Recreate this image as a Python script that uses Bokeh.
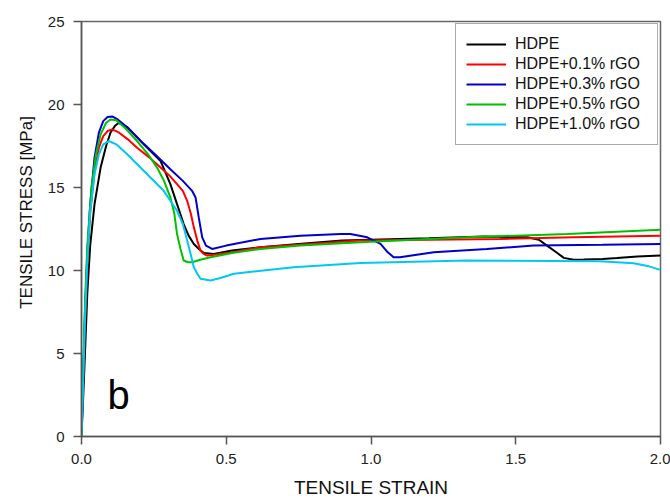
from bokeh.plotting import figure
from bokeh.models import Range1d, FixedTicker, NumeralTickFormatter, Legend, LegendItem, Label, Title
from bokeh.embed import file_html
from bokeh.resources import INLINE

# ---- data ----
hdpe_x = [0, 0.005, 0.012, 0.02, 0.03, 0.045, 0.066, 0.085, 0.1, 0.115, 0.129, 0.16, 0.215, 0.273, 0.307,
          0.33, 0.353, 0.37, 0.388, 0.405, 0.423, 0.457, 0.52, 0.618, 0.75, 0.9, 1.0, 1.2, 1.39, 1.54,
          1.58, 1.608, 1.64, 1.666, 1.7, 1.735, 1.8, 1.85, 1.92, 2.0]
hdpe_y = [0, 2.0, 5.0, 8.6, 11.5, 14.0, 16.2, 17.5, 18.3, 18.7, 18.9, 18.6, 17.6, 16.6, 15.2,
          14.0, 12.8, 12.1, 11.6, 11.3, 11.05, 11.0, 11.2, 11.4, 11.6, 11.8, 11.85, 11.95, 12.05, 12.0,
          11.85, 11.5, 11.1, 10.76, 10.65, 10.66, 10.7, 10.75, 10.85, 10.9]

r01_x = [0, 0.005, 0.012, 0.02, 0.03, 0.045, 0.06, 0.075, 0.09, 0.106, 0.13, 0.16, 0.192, 0.235, 0.273,
         0.305, 0.33, 0.35, 0.365, 0.378, 0.388, 0.40, 0.411, 0.422, 0.434, 0.46, 0.52, 0.618, 0.75,
         0.964, 1.2, 1.447, 1.7, 2.0]
r01_y = [0, 3.0, 7.0, 10.5, 13.5, 16.0, 17.4, 18.1, 18.4, 18.5, 18.3, 17.9, 17.4, 16.8, 16.2,
         15.7, 15.2, 14.8, 14.2, 13.4, 12.6, 11.8, 11.2, 11.0, 10.9, 10.95, 11.1, 11.4, 11.55,
         11.8, 11.85, 11.9, 12.0, 12.1]

r03_x = [0, 0.005, 0.012, 0.02, 0.03, 0.045, 0.06, 0.075, 0.09, 0.106, 0.125, 0.16, 0.215, 0.26, 0.307,
         0.35, 0.382, 0.394, 0.405, 0.417, 0.43, 0.451, 0.5, 0.618, 0.756, 0.895, 0.929, 0.987, 1.01,
         1.033, 1.055, 1.078, 1.1, 1.217, 1.4, 1.562, 1.8, 2.0]
r03_y = [0, 3.0, 7.5, 11.0, 14.0, 16.8, 18.3, 19.0, 19.25, 19.28, 19.1, 18.6, 17.63, 16.9, 16.1,
         15.4, 14.8, 14.4, 13.2, 12.0, 11.5, 11.3, 11.5, 11.9, 12.1, 12.2, 12.2, 12.0, 11.8,
         11.6, 11.15, 10.8, 10.8, 11.1, 11.3, 11.5, 11.55, 11.6]

r05_x = [0, 0.005, 0.012, 0.02, 0.035, 0.05, 0.066, 0.085, 0.1, 0.12, 0.15, 0.192, 0.23, 0.261, 0.285,
         0.307, 0.32, 0.33, 0.342, 0.353, 0.368, 0.382, 0.41, 0.446, 0.52, 0.618, 0.756, 0.964, 1.33,
         1.678, 2.0]
r05_y = [0, 3.5, 8.0, 11.5, 15.1, 17.0, 18.2, 18.9, 19.1, 19.05, 18.6, 17.8, 17.0, 16.2, 15.4,
         14.4, 13.5, 12.2, 11.3, 10.6, 10.5, 10.5, 10.65, 10.8, 11.05, 11.3, 11.5, 11.7, 12.0,
         12.2, 12.45]

r10_x = [0, 0.005, 0.012, 0.02, 0.03, 0.045, 0.06, 0.075, 0.094, 0.12, 0.158, 0.227, 0.284, 0.33, 0.35,
         0.365, 0.377, 0.388, 0.40, 0.411, 0.446, 0.48, 0.526, 0.733, 0.964, 1.33, 1.79, 1.907, 1.96, 2.0]
r10_y = [0, 3.0, 7.0, 10.5, 13.5, 15.8, 17.0, 17.6, 17.8, 17.6, 17.0, 15.8, 14.8, 13.6, 12.8,
         11.8, 11.0, 10.2, 9.8, 9.5, 9.4, 9.55, 9.8, 10.2, 10.45, 10.6, 10.56, 10.44, 10.25, 10.04]

series_names = ["HDPE", "HDPE+0.1% rGO", "HDPE+0.3% rGO", "HDPE+0.5% rGO", "HDPE+1.0% rGO"]
series_colors = ["#000000", "#ff0000", "#0000cc", "#00c000", "#00c8f0"]
x_ticks = [0.0, 0.5, 1.0, 1.5, 2.0]
y_ticks = [0, 5, 10, 15, 20, 25]
x_title = "TENSILE STRAIN"
y_title = "TENSILE STRESS [MPa]"
panel_tag = "b"

FONT = "Liberation Sans"

p = figure(width=670, height=500, output_backend="svg", toolbar_location=None,
           x_range=Range1d(0, 2), y_range=Range1d(0, 25),
           min_border_left=81, min_border_right=10, min_border_top=21, min_border_bottom=64)
p.grid.visible = False
p.outline_line_color = "#666666"
p.outline_line_width = 1.5
p.background_fill_color = "white"
p.border_fill_color = "white"

for ax in (p.xaxis[0], p.yaxis[0]):
    ax.axis_line_color = "#555555"
    ax.axis_line_width = 1.5
    ax.major_tick_line_color = "#555555"
    ax.major_tick_line_width = 1.5
    ax.major_tick_out = 8
    ax.major_tick_in = 0
    ax.minor_tick_out = 0
    ax.minor_tick_in = 0
    ax.major_label_text_font = FONT
    ax.major_label_text_font_size = "15px"
    ax.major_label_text_color = "#222222"

p.xaxis[0].ticker = FixedTicker(ticks=x_ticks)
p.xaxis[0].formatter = NumeralTickFormatter(format="0.0")
p.xaxis[0].major_label_standoff = 9
p.xaxis[0].axis_label = x_title
p.xaxis[0].axis_label_text_font = FONT
p.xaxis[0].axis_label_text_font_size = "19px"
p.xaxis[0].axis_label_text_font_style = "normal"
p.xaxis[0].axis_label_text_color = "#111111"
p.xaxis[0].axis_label_standoff = 10

p.yaxis[0].ticker = FixedTicker(ticks=y_ticks)
p.yaxis[0].major_label_standoff = 9

xs = [hdpe_x, r01_x, r03_x, r05_x, r10_x]
ys = [hdpe_y, r01_y, r03_y, r05_y, r10_y]
items = []
for xv, yv, name, col in zip(xs, ys, series_names, series_colors):
    r = p.line(xv, yv, line_color=col, line_width=2)
    items.append(LegendItem(label=name, renderers=[r]))

legend = Legend(items=items, location="top_right",
                label_text_font=FONT, label_text_font_size="16px", label_text_color="#111111",
                glyph_width=40, glyph_height=20, label_height=20, label_width=132, label_standoff=9,
                spacing=0, padding=10, margin=2,
                border_line_color="#555555", border_line_width=1.5,
                background_fill_color="white", background_fill_alpha=1)
p.add_layout(legend, "center")

p.add_layout(Label(x=0.09, y=1.2, text=panel_tag, text_font=FONT, text_font_size="40px",
                   text_color="#000000"))

# y-axis title; leading no-break spaces lift the visible text slightly above centre, as in the reference
p.add_layout(Title(text="\u00a0" * 7 + y_title, align="center", standoff=18,
                   text_font=FONT, text_font_size="17px", text_font_style="normal",
                   text_color="#111111"), "left")

open("out.html", "w").write(file_html(p, INLINE))
